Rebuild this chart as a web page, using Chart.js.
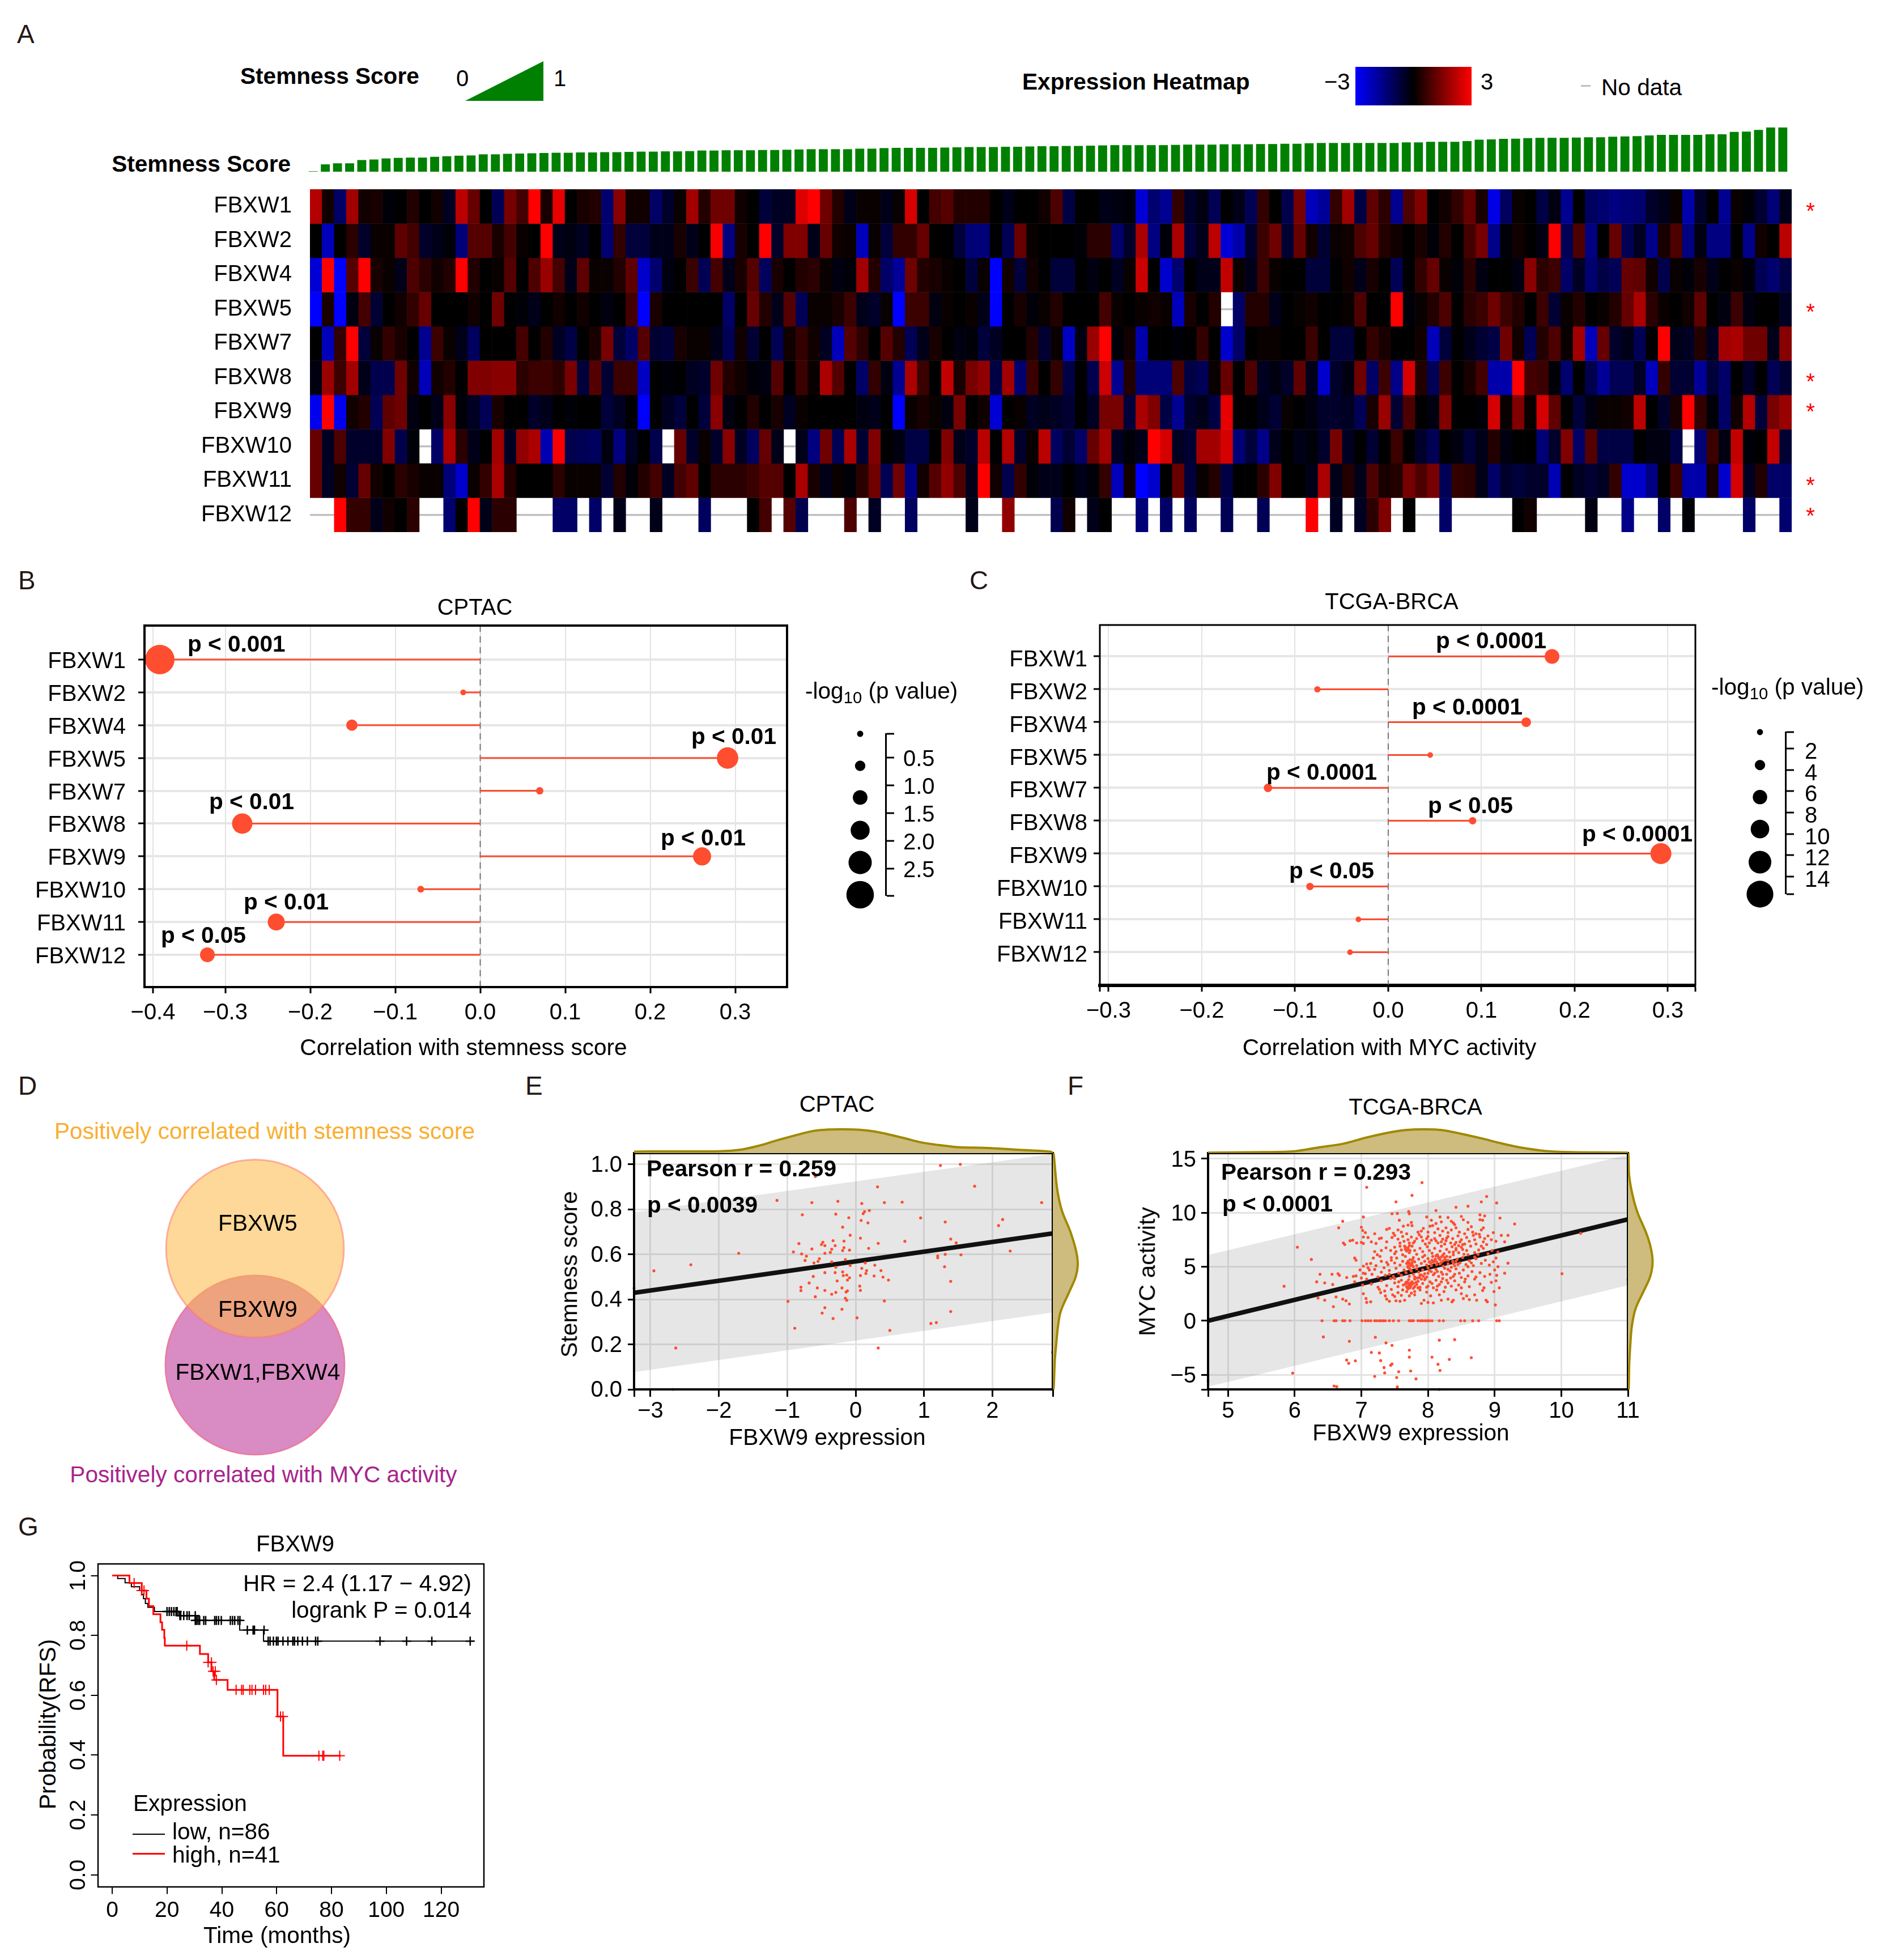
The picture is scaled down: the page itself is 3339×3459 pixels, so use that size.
<!DOCTYPE html>
<html>
<head>
<meta charset="utf-8">
<script src="https://cdn.jsdelivr.net/npm/chart.js@4"></script>
<style>
  html, body { margin: 0; background: #fff; }
  #page { position: relative; width: 3339px; height: 3459px; overflow: hidden; background: #fff; font-family: "Liberation Sans", Arial, sans-serif; }
  #page canvas { position: absolute; }
  .lbl { position: absolute; white-space: nowrap; line-height: 1; color: #000; }
  .lbl sub { font-size: 0.72em; line-height: 0; vertical-align: -0.28em; }
</style>
</head>
<body>
<div id="page"></div>
<script>
// ---------- data ----------
const genes = ['FBXW1', 'FBXW2', 'FBXW4', 'FBXW5', 'FBXW7', 'FBXW8', 'FBXW9', 'FBXW10', 'FBXW11', 'FBXW12'];

const stemness = [
  .01,.166,.19,.19,.264,.276,.30,.313,.319,.319,.337,.35,.362,.368,.393,.393,.405,.411,.417,.423,.429,.429,.436,.436,.442,.442,.448,.454,.454,.46,.46,.466,.479,.479,.485,.485,.485,.491,.491,.497,.503,.509,.509,.509,.509,
  .521,.521,.534,.54,.54,.54,.54,.546,.552,.558,.558,.558,.564,.564,.571,.577,.577,.583,.583,.589,.595,.601,.601,.601,.601,.601,.607,.613,.613,.613,.62,.62,.62,.626,.626,.632,.632,.644,.65,.65,.65,.65,
  .65,.65,.65,.663,.663,.675,.675,.675,.693,.724,.73,.742,.748,.761,.767,.767,.767,.773,.779,.779,.791,.798,.804,.822,.834,.834,.834,.834,.847,.847,.902,.908,.945,1,1
];

const exprW1 = [2.1,.2,-1.2,1.9,.2,.3,-.1,0,.4,0,.2,-.4,2.2,1.2,0,-1,1.4,.8,3,.3,2.7,0,.3,.4,-1.3,1.6,.2,.2,-1.2,-.5,.1,1.9,.4,1.3,1.3,.2,0,-.7,-.4,-.4,2.6,3,1.3,.4,-.3,
  .1,.1,-.3,.1,2.5,0,.8,1,.4,.4,.4,0,-.3,0,0,.2,.9,-.8,0,0,-.3,-.2,-.1,-2.5,-1.3,-1.7,.6,-.5,-.2,-1,0,-.3,-1,.6,0,-.9,1.4,-2.2,-1.8,.6,1.9,-.8,1.1,.5,-1.7,.9,
  1.5,0,.2,.6,1.2,.3,-2.7,-1.1,.1,0,-.8,-.2,-1.7,0,-1.1,-1.3,-1.5,-1.4,-1.3,-.5,-.3,.1,-2,-.5,0,-1.7,.1,-.1,-.6,-1.4,-.3];
const exprW2 = [0,-2.2,0,.5,-.5,.1,.1,1.1,.8,-.5,-.3,-.1,-1.4,1,1,.3,.8,.1,0,3,-.3,-.2,-.4,0,-1.3,.6,-.7,-.7,-.3,-.3,.3,-.3,0,2.9,-1.5,.3,0,3,-.5,1.5,1.5,-.3,1.2,.2,.1,
  -2.2,.1,-.7,.6,.6,1.2,0,0,-.7,-1.4,-1.4,0,-1,1.2,.1,0,0,0,-.1,.5,.5,-1.3,-.5,2,-1.5,-.1,2,-.7,-.3,2.2,-2.5,-2,-.5,.7,1.3,-.6,1.2,.2,-.6,.1,.2,.9,1.2,.4,.2,0,
  .3,-.1,.4,0,.8,1.4,-1.6,-.1,.2,0,-.2,3,-1,.9,-1.5,0,1.2,-1,-.4,-1.6,.3,.9,-1.5,-.2,-1.5,-1.5,0,-1.6,.2,0,2.2];
const exprW4 = [-2.5,3,-3,1,3,.3,.1,-.3,.9,.5,.2,.4,3,.4,0,.1,1,0,.9,1.8,.8,-.3,1.1,.1,.1,.4,1.1,-2.4,-1.3,-.2,0,.7,-1,.8,-.3,.3,1,-1.1,.3,0,.4,.5,.1,-.2,-.1,
  1.9,.4,-1.2,-1.8,1.3,.4,.3,.1,0,-.7,.1,-3,.2,-.7,.2,0,-.7,-.7,0,-.2,0,-.4,.1,2.4,0,-2.4,-1.3,0,-.3,-.3,2.3,.1,-.3,.7,.1,0,0,-.7,-.7,0,.2,-.3,.3,0,-1,0,
  .6,1.2,.1,-.1,.5,-.2,0,0,-.2,1.6,.5,.7,-1.2,-.4,-1.3,-.8,-1,1.2,1.1,.2,-.9,.1,-.1,.3,-.3,0,.1,-.1,-1,-1.3,-.8];
const exprW5 = [-3,.3,-3,-.2,.8,-.6,0,.2,.6,1.2,0,0,0,.2,0,1.3,0,-.1,-.3,0,.2,0,.2,0,-.2,0,.8,-3,.3,0,0,0,0,0,-1.2,0,1.2,.4,-.3,1,-1,.1,.1,.3,.7,
  -.3,-.5,.1,-3,.7,.7,-.2,.1,0,.1,-.3,-3,0,.3,-.1,.1,.4,0,0,0,.8,.1,0,.1,.2,.1,-2.2,.3,0,.4,null,-1.2,.4,.4,-.3,0,.1,.2,0,0,.1,.9,0,0,3,-.1,
  .1,.4,.9,0,.5,.7,1.3,.7,.4,0,.7,-.6,.1,.4,0,.1,.4,1.2,2,.5,.1,0,.2,1.1,0,-.2,.7,-.2,0,0,-.4];
const exprW7 = [0,-2.2,.6,3,-.7,.1,.6,.3,0,-1.7,.7,.1,-.3,-1.1,0,0,0,.8,0,.4,-.4,-.8,0,.3,1.4,-.7,-1.2,1,-.6,-.7,.3,.1,.1,-.3,-1,.2,-.6,0,-1,.2,.6,.2,-.4,-2.2,1,
  .5,0,1,.4,-1,-.3,.3,0,-.2,-.1,-.7,-.4,0,0,.4,-.6,.1,-2.3,-.2,1.8,3,-.1,.2,-2,0,0,-.1,0,.6,0,-2.4,-1.2,0,.1,.1,0,0,.7,0,-.7,-.7,0,.6,.3,0,0,
  .2,-2.2,-.7,0,-.3,-.6,-.8,1.3,.2,-1,.4,.9,.1,1.9,-2.2,1.2,-.5,-.3,-1,0,3,-.3,-.4,.4,-.4,1.9,2,1.3,1.3,-.3,1.6];
const exprW8 = [-.2,1.8,.7,1.9,-.3,-.9,-.9,1.3,.2,-2.2,.2,.4,0,1.5,1.5,1.6,1.6,.5,.7,.7,.5,1.4,-.7,1,-.6,.7,.7,-2.3,0,-.1,0,-.4,-.5,1.3,.4,.2,-.1,-.2,1,0,.7,.1,2,1,0,
  -1.2,.6,-.2,-1.7,2,.7,0,2.3,.3,1.4,1.7,-.8,1.9,-1.3,.7,0,.6,-.8,0,-.9,2.4,-1.7,.4,-1.4,-1.4,-1.4,.9,-.8,-1,.1,1.2,0,.9,-.4,-.2,-.5,1.1,-.3,-2.4,-.5,-.2,1.3,-1.2,.7,-1.6,2.5,
  .4,-1,.7,0,.3,.8,-2,-2,3,.8,.7,-.1,-1.3,0,-.9,-1.8,-1,-1,-.4,-2.2,.6,-.6,-.6,-1.8,-.7,-1.2,0,-.5,0,-1,-.6];
const exprW9 = [-2.8,3,-2.8,.2,.4,-1,1.1,1.3,-.2,0,-.3,1.6,-.1,-.4,-1,.3,0,0,-.5,-.3,0,-.1,0,0,-.7,-.4,0,-3,0,-.4,-.7,0,-.7,1.6,-.2,0,.4,0,.3,-.4,.1,0,0,0,0,
  -.2,-.3,0,-3,.1,.3,.1,-.2,1.4,0,.2,-2.5,0,.1,-.4,-.3,-.4,-.6,0,-.4,1.4,1.4,-.7,2,1.5,-.8,-1.7,-.5,-.3,-.8,2.7,0,0,-.3,-.6,.1,0,-.2,-.5,-.5,-.4,-1,.3,1.8,-.6,.9,
  0,-.2,1.5,0,0,-.1,2.5,.1,1.5,.1,2.5,1.1,0,-.7,-.2,.1,.1,.2,2.2,0,-.5,.3,3,.6,-.1,-1.2,.2,2.1,-.7,1.4,1.8];
const exprW10 = [1.2,-.4,.9,-.5,-.5,-.5,1.5,-.9,-.1,null,-1.2,2,.5,-.3,0,1.9,-.4,1.7,2,-2.1,2.9,-.9,-1,-1.1,-.2,-1.5,-.4,0,-.9,null,1.2,-.5,.1,-.5,1.6,-.4,-1.1,1.2,-.3,null,-.3,-1.5,1.3,-1,2,
  -.6,1.5,0,-.2,-.8,-.8,0,1.5,-.3,-.5,2.2,0,2.1,-.5,.1,2.2,-1.1,-.6,-1.2,1.2,1.9,-.4,-.1,-.3,3,2.5,-.4,-.6,1.9,1.9,2.5,-1.4,-.7,-1.6,-.3,0,-.3,-.1,-.5,1.4,-.4,0,-.6,0,.7,0,
  -.5,-1,0,-.2,-.7,-.3,.4,-.2,0,0,-1.4,-.5,1.5,-1.2,1,-.8,-.8,-.8,0,-.2,-.2,-.8,null,-1.4,.7,-.2,2.3,-.1,0,2.3,-.6];
const exprW11 = [1.2,-.4,.2,-.6,1.2,.2,0,.5,.3,.1,.1,-1.4,-2.4,.1,.6,2,.4,0,0,0,.5,.1,.1,.1,-.6,.4,-.1,.4,.8,-.4,.8,1.1,0,.5,.5,.5,.7,1,1,0,2,.3,-.3,.1,-.1,
  .5,1.3,-1,1.3,-1.5,.2,1,1.7,.9,-.3,3,.2,-.9,.6,-.1,-.3,-.3,0,-.3,-.1,.6,-2.2,.2,-3,-2.4,0,1.2,-.7,.1,.4,-.8,0,0,.5,1.5,0,0,-.3,2,-.3,.4,-.3,.9,.3,.4,1.4,
  .9,1.4,-1,.6,.5,-.3,-1.2,-.5,-.7,-.5,-.5,-2.1,0,-.4,-.6,-.4,.6,-2.4,-2.4,-1.5,0,.7,-2,-2,.3,-2.4,2.5,-.4,.4,-1.2,-1.2];
const exprW12 = [null,null,3,.6,.6,-.3,.2,0,.5,null,null,-1.3,0,3,-.3,.5,.5,null,null,null,-1.2,-1.2,null,-1.2,null,-.3,null,null,-.3,null,null,null,-1.1,null,null,null,0,.8,null,1,-.9,null,null,null,.9,
  null,-.4,null,null,-1.1,null,null,null,null,-.3,null,null,1.7,null,null,null,-.9,.2,null,-.3,0,null,null,-1.4,null,-1.2,null,-1.1,null,null,-1,null,null,-1,null,null,null,3,null,-.4,null,-.4,.5,1.5,null,0,
  null,null,-1.2,null,null,null,null,null,0,.2,null,null,null,null,-.2,null,null,-1.6,null,null,-1.2,null,-.1,null,null,null,null,-1.2,null,null,-1.3];
const exprRows = [exprW1, exprW2, exprW4, exprW5, exprW7, exprW8, exprW9, exprW10, exprW11, exprW12];

// lollipops: correlation and -log10(p)
const corrB = [-.377, -.02, -.151, .291, .07, -.28, .261, -.07, -.24, -.321];
const logpB = [3.23, .02, .77, 2.15, .23, 2.0, 1.69, .15, 1.54, 1.23];
const corrC = [.1757, -.076, .148, .045, -.129, .0905, .2925, -.084, -.032, -.041];
const logpC = [6.8, .55, 3.1, .1, 2.2, 1.4, 11.4, 1.4, .1, .1];
const xTicksB = [-.385, -.3, -.2, -.1, 0, .1, .2, .3];
const xTicksC = [-.3, -.2, -.1, 0, .1, .2, .3];
const sizeLegendB = [.074, .65, 1.22, 1.81, 2.39, 2.97];
const sizeTicksB = [.5, 1, 1.5, 2, 2.5];
const sizeLegendC = [.46, 3.55, 6.55, 9.55, 12.65, 15.65];
const sizeTicksC = [2, 4, 6, 8, 10, 12, 14];

// scatter E: CPTAC
const pointsE = [[1.24,.995],[1.53,1],[.32,.9],[1.74,.903],[-.59,.946],[-1.15,.84],[-.64,.83],[-.26,.836],[.09,.826],[.42,.83],[.68,.832],[2.72,.83],[-.78,.776],[-.29,.779],[.2,.795],[.13,.79],[.11,.781],[-.1,.763],[.95,.762],[2.15,.755],[.08,.751],[.18,.74],[1.31,.744],[2.09,.728],[-.19,.721],[-.08,.685],[.07,.672],[1.39,.668],[-.17,.659],[-.33,.661],[.72,.658],[.33,.649],[1.47,.651],[-.48,.654],[-.5,.644],[-.45,.639],[-.3,.639],[-.83,.648],[-.64,.624],[-.17,.63],[-.35,.623],[.19,.627],[-.19,.617],[-.09,.619],[-.91,.611],[-.37,.609],[-.45,.605],[-.79,.602],[-1.71,.605],[2.26,.615],[1.31,.6],[1.54,.598],[-.72,.592],[1.2,.593],[1.2,.585],[-.53,.581],[-.74,.573],[-.55,.569],[-.15,.577],[-.61,.562],[-.35,.567],[.14,.562],[-2.41,.554],[-.08,.551],[.28,.552],[-.29,.543],[1.3,.545],[.09,.538],[-2.95,.527],[.37,.528],[.16,.528],[-.19,.522],[-.45,.519],[-.3,.519],[.15,.515],[-.13,.508],[-.18,.506],[.07,.506],[.27,.504],[-.62,.502],[.4,.499],[-.09,.496],[-.12,.486],[.48,.486],[-.27,.482],[1.39,.48],[-.68,.473],[.06,.459],[-.8,.454],[-.56,.451],[-.2,.451],[-3.24,.45],[-.45,.44],[-.8,.439],[-.12,.438],[.07,.44],[-.14,.433],[-.29,.431],[-.35,.423],[-.59,.412],[-.15,.405],[-.13,.396],[-.99,.391],[.42,.393],[-.45,.363],[-.2,.356],[1.39,.346],[-.49,.339],[.02,.318],[-.33,.315],[1.18,.297],[1.1,.293],[-.89,.272],[.5,.262],[-2.63,.184],[.33,.184],[2.88,.165],[-2.67,0]];
const fitXE = [-3.24, 2.883];
const fitYE = [.4295, .693];
const bandUpperE = [.787, 1.047];
const bandLowerE = [.0765, .342];
const topDensityXE = [-3.24,-2.83,-2,-1.67,-1.39,-1.17,-.89,-.62,-.39,-.17,.05,.27,.49,.71,.94,1.16,1.49,1.88,2.32,2.85];
const topDensityE = [.06,.07,.08,.15,.33,.52,.74,.93,.99,1,.98,.91,.78,.63,.46,.36,.25,.22,.15,.06];
const sideDensityYE = [1.05,.894,.796,.699,.612,.555,.501,.436,.348,.282,.206,.129,0];
const sideDensityE = [.03,.17,.36,.71,.94,1,.92,.67,.32,.21,.14,.08,.03];

// scatter F: TCGA-BRCA
const outliersF = [[7.91,12.78],[7.08,12.35],[7.76,11.6],[7.52,11],[8.88,11.5],[9.03,10.9],[8.8,11],[8.6,10.6],[8.42,10.5],[8.12,10.2],[7.71,10.1],[7.54,9.93],[7.46,9.9],[7.03,9.6],[6.72,9.2],[6.66,8.6],[6.04,6.8],[6.25,5.67],[5.84,3.19],[10.01,4.35],[10.29,8.09],[9.3,8.95],[9.08,9.5],[9.2,7.9],[9.2,5.33],[9.15,4.4],[9.07,3.05],[9.01,1.46],[8.89,1.75],[4.7,-5.6],[11,3.78],
  [6.43,-1.5],[6.82,-1.9],[7.21,-1.53],[7.37,-2.05],[7.46,-2.28],[8.17,-1.8],[8.4,-1.75],[7.15,-2.94],[7.27,-2.98],[7.72,-2.73],[7.72,-3.37],[8.06,-3.37],[8.32,-3.58],[8.65,-3.42],[6.78,-3.64],[6.81,-3.94],[6.91,-3.71],[7.29,-3.69],[7.34,-4.33],[7.46,-4],[7.44,-4.12],[8.15,-4.03],[7.35,-4.83],[7.56,-4.72],[7.74,-4.65],[8.18,-4.6],[5.97,-4.85],[7.2,-5.15],[7.53,-5.26],[7.82,-5.38],[6.59,-6.04],[6.63,-6.1],[7.54,-6.13],[8.17,-6.36]];
const zeroRowXF = [6.41,6.59,6.62,6.72,6.75,6.83,7.01,7.06,7.1,7.14,7.2,7.23,7.27,7.3,7.33,7.36,7.42,7.48,7.56,7.72,7.75,7.78,7.85,7.89,7.92,7.96,7.99,8.02,8.06,8.17,8.23,8.49,8.55,8.67,8.76,9.03,9.07];
const clusterF = [[7.72,9.9],[7.98,9.6],[8.05,9.3],[8.18,9.6],[8.2,9.15],[8.3,9.55],[8.35,9.2],[8.5,9.65],[8.53,9.35],[8.78,9.8],[8.82,9.3],[8.85,9.7],[8.6,9.1],[7.57,9.3],[7.75,9.1],[8.12,9],[8.38,9.05],[8.78,9.35],
  [7,8.65],[7.06,8.15],[7.02,8.35],[7.38,8.45],[7.42,8.55],[7.55,8.4],[7.63,8.75],[7.7,8.85],[7.76,8.8],[7.85,8.2],[7.9,8.3],[7.93,8.55],[8,8.2],[8.03,8.75],[8.07,8.8],[8.15,8.5],[8.22,8.3],[8.3,8.15],[8.27,8.6],[8.42,8.6],[8.47,8.2],[8.55,8.05],[8.6,8.45],[8.65,8.7],[8.67,8.2],[8.72,8.05],[8.8,8.4],[8.83,8.6],[8.77,8],[7.2,8.05],[7.48,8.1],[7.6,8.2],[7.68,8.05],[8.1,8.15],[8.35,8.4],[8.4,8.9],
  [6.73,7.2],[6.75,7.05],[6.83,7.4],[6.87,7.45],[6.93,7.2],[7,7.25],[7.03,7.15],[7.03,7.75],[7.1,7.7],[7.15,7.3],[7.27,7.6],[7.3,7.65],[7.22,7.15],[7.38,7.3],[7.46,7.7],[7.5,7.9],[7.58,7.2],[7.55,7.55],[7.62,7.8],[7.7,7.5],[7.75,7.75],[7.78,7.2],[7.83,7.6],[7.87,7.95],[7.92,7.4],[7.96,7.1],[8,7.8],[8.05,7.45],[8.1,7.6],[8.15,7.2],[8.18,7.9],[8.22,7.55],[8.25,7.1],[8.27,7.4],[8.3,7.8],[8.37,7.6],[8.42,7.25],[8.45,7.85],[8.5,7.5],[8.55,7.1],[8.58,7.7],[8.62,7.35],[8.68,7.9],[8.7,7.5],[8.72,7.1],[8.78,7.75],[8.83,7.3],[8.85,7.6],[8.95,7.5],[9.02,7.35],[9.1,7.9],[9.15,7.3],
  [7.2,6.4],[7.3,6.5],[7.37,6.75],[7.44,6.5],[7.5,6.8],[7.52,6.4],[7.6,6.55],[7.62,6.1],[7.66,6.8],[7.7,6.6],[7.72,6.3],[7.76,6.9],[7.8,6.5],[7.83,6.15],[7.88,6.7],[7.92,6.4],[7.95,6.05],[7.99,6.85],[8.02,6.5],[8.06,6.25],[8.1,6.7],[8.14,6.1],[8.18,6.45],[8.2,6.9],[8.24,6.2],[8.28,6.6],[8.32,6.35],[8.36,6.85],[8.38,6.1],[8.42,6.55],[8.46,6.3],[8.5,6.8],[8.54,6.15],[8.58,6.5],[8.64,6.9],[8.7,6.3],[8.76,6.55],[8.83,6.7],[8.9,6.2],[8.96,6.5],[9.05,6.35],
  [6.9,5.8],[6.92,5.6],[7.03,5.05],[7.08,5.25],[7.14,5.3],[7.22,5.1],[7.3,5.5],[7.4,5.2],[7.45,5.6],[7.5,5.35],[7.53,5.8],[7.58,5.15],[7.62,5.5],[7.66,5.95],[7.68,5.3],[7.7,5.05],[7.73,5.65],[7.76,5.2],[7.78,5.85],[7.8,5.45],[7.83,5.1],[7.86,5.7],[7.9,5.3],[7.92,5.9],[7.95,5.5],[7.98,5.15],[8,5.75],[8.04,5.35],[8.07,5.95],[8.1,5.55],[8.13,5.2],[8.16,5.8],[8.2,5.4],[8.23,5.05],[8.26,5.65],[8.3,5.25],[8.33,5.9],[8.37,5.5],[8.4,5.1],[8.44,5.7],[8.48,5.35],[8.52,5.85],[8.57,5.2],[8.62,5.55],[8.68,5.1],[8.72,5.75],[8.8,5.3],[8.86,5.6],[8.92,5.15],[8.98,5.45],[9.02,5.8],
  [6.38,4.3],[6.56,4.3],[6.65,4.35],[6.67,4.2],[6.78,4],[6.88,4.1],[6.92,4.15],[6.98,4.7],[7.03,4.4],[7.1,4.9],[7.16,4.3],[7.2,4.75],[7.25,4.05],[7.3,4.5],[7.36,4.2],[7.42,4.65],[7.48,4.1],[7.52,4.85],[7.56,4.4],[7.6,4.2],[7.64,4.7],[7.67,4.45],[7.7,4.95],[7.72,4.1],[7.75,4.6],[7.78,4.3],[7.8,4.05],[7.83,4.8],[7.86,4.5],[7.88,4.2],[7.92,4.7],[7.95,4.35],[7.98,4.05],[8,4.9],[8.05,4.55],[8.08,4.25],[8.12,4.75],[8.16,4.1],[8.2,4.5],[8.25,4.85],[8.28,4.3],[8.33,4.6],[8.38,4.1],[8.42,4.8],[8.47,4.4],[8.53,4.7],[8.6,4.15],[8.66,4.55],[8.72,4.05],[8.78,4.45],[8.85,4.1],[8.93,4.3],[9,4.7],[9.03,4.2],[9.05,5],
  [6.33,3.6],[6.45,3.5],[6.57,3.35],[6.9,3.6],[7.02,3.3],[7.08,3.85],[7.15,3.4],[7.25,3.1],[7.3,3.7],[7.38,3.25],[7.44,3.9],[7.5,3.5],[7.55,3.15],[7.6,3.75],[7.63,3.3],[7.67,3.55],[7.69,3.05],[7.71,3.8],[7.72,3.4],[7.74,3.2],[7.76,3.6],[7.78,3],[7.8,3.85],[7.83,3.35],[7.85,3.65],[7.88,3.1],[7.92,3.45],[7.96,3.9],[8,3.2],[8.03,3.6],[8.08,3.05],[8.12,3.75],[8.17,3.35],[8.22,3.9],[8.26,3.1],[8.3,3.5],[8.35,3.2],[8.4,3.7],[8.46,3.3],[8.5,3.05],[8.55,3.6],[8.62,3.15],[8.7,3.85],[8.78,3.4],[8.84,3.05],[8.95,3.55],[9.02,3.7],
  [6.45,1.9],[6.35,2.1],[6.58,1.3],[6.77,1.85],[6.72,2],[6.82,1.55],[6.62,2.2],[7.03,2.5],[7.07,2.05],[7.08,1.7],[7.14,1.75],[7.27,2.9],[7.29,2.6],[7.36,2.3],[7.38,2],[7.42,1.8],[7.47,2.4],[7.5,2.25],[7.52,1.85],[7.58,1.8],[7.6,2.35],[7.65,1.9],[7.68,2.7],[7.72,2.3],[7.75,2.55],[7.8,2.4],[7.88,2.85],[7.9,1.6],[7.94,1.9],[7.98,2.65],[8,1.7],[8.04,2.3],[8.08,1.65],[8.13,2.85],[8.17,2.4],[8.2,1.9],[8.24,2.7],[8.3,2],[8.36,1.75],[8.38,1.9],[8.42,2.85],[8.5,2.5],[8.53,2.05],[8.58,2.3],[8.62,1.95],[8.7,2.4],[8.73,1.9],[8.82,2.8],[8.87,1.9],[8.99,2.7]];
const coreF = [[7.7,3.45],[7.72,3.25],[7.74,3.5],[7.68,3.15],[7.66,3.4],[7.73,3.05],[7.75,3.3],[7.7,2.95],[7.78,3.45],[7.8,3.15],[7.82,3.55],[7.69,3.6],[7.87,4],[7.9,3.85],[7.93,4.1],[7.9,4.25],[7.84,3.95],[7.95,3.8],[7.72,5.3],[7.74,5.1],[7.76,5.4],[7.78,5],[7.7,5.5],[7.72,4.85],[7.77,5.65],[7.74,4.7],[7.66,6.6],[7.68,6.45],[7.7,6.75],[7.73,6.5],[7.65,6.9],[7.72,6.95],
  [8.06,5.6],[8.08,5.4],[8.11,5.7],[8.13,5.45],[8.15,5.95],[8.18,5.65],[8.2,5.9],[8.22,6.05],[8.25,5.85],[8.23,5.55],[8.18,5.25],[8.28,5.95],[8.3,5.6],[8.12,6],[8.05,5.1],[8.02,5.45],[8,4.4],[8.02,4.65],[8.1,4.4],[8.14,4.55],[8.22,4.3],[8.3,4.75],[8.35,4.95],[8.38,5.3],[8.42,5.5],[8.45,5.2],[8.38,6.35],[8.42,6.7],[8.46,6.95],[8.4,7.05],[8.48,7.3],[8.52,7.05],[8.34,7.2],[8.28,7.65],[8.2,7.3],[8.12,7.4],[8.02,7.2],[7.98,7.6],[7.9,7.75],[7.8,7.35],[7.72,7.2],[7.64,7.35],[7.58,6.9],[7.5,6.2],[7.45,5.85],[7.38,5.4],[7.34,4.9],[7.42,4.3],[7.5,3.9],[7.56,3.6],[7.62,2.85],[7.8,2.7],[7.85,3.05],[7.98,3.1],[8.06,3.45],[8.14,3.2],[8.2,3.6],[8.28,3.75],[8.34,3.95],[8.4,4.3],[8.5,4],[8.56,3.85],[8.6,5],[8.65,5.35],[8.7,5.9],[8.75,6.15],[8.8,6.9],[8.88,7.05],[8.9,7.85],[8.98,8.15],[8.6,6.1],[8.52,6.6],[7.28,5.95],[7.24,6.1],[7.18,5.8],[7.12,4.7],[7.06,4.35],[7,3.95],[7.35,2.75],[7.45,2.9],[7.55,2.6]];
const fitXF = [4.7, 11];
const fitYF = [0, 9.38];
const bandUpperF = [6.08, 15.35];
const bandLowerF = [-6.1, 3.28];
const topDensityXF = [4.7,5.52,6,6.36,6.72,7.07,7.37,7.67,7.94,8.2,8.5,8.8,9.1,9.4,9.76,10.15,11];
const topDensityF = [.02,.04,.08,.24,.39,.65,.84,.97,1,.97,.81,.62,.41,.23,.09,.04,.02];
const sideDensityYF = [15.51,13.41,11.59,10,8.18,6.81,5.44,4.07,2.71,1.12,-.48,-2.07,-4.12,-6.36];
const sideDensityF = [.02,.05,.19,.39,.73,.92,1,.9,.63,.31,.16,.1,.05,.03];

// Kaplan-Meier G
const lowTimes = [0,2,4.7,7,10,10.8,11.4,12.1,13,15.4,24.3,30.3,46.5,55.2,131.7];
const lowSurv = [1,.99,.976,.963,.95,.937,.923,.907,.894,.88,.866,.85,.818,.781,.781];
const highTimes = [0,6.3,10.8,12.5,13.4,15,17.6,18.2,19,19.2,32,35,36.2,37.2,42.1,60.3,62.4,83.4];
const highSurv = [1,.975,.95,.923,.898,.871,.844,.819,.791,.766,.738,.71,.68,.651,.618,.529,.398,.398];
const lowCensor = [[20,.88],[20.8,.88],[21.6,.88],[22.5,.88],[23.3,.88],[23.7,.88],[24.7,.866],[25,.866],[26.1,.866],[27.3,.866],[28.1,.866],[30.3,.866],[30.3,.85],[30.7,.85],[31.3,.85],[31.9,.85],[33.4,.85],[34.1,.85],[37.4,.85],[38,.85],[38.8,.85],[39.8,.85],[43.1,.85],[43.9,.85],[44.7,.85],[45.9,.85],[46.6,.85],[49.3,.818],[51.4,.818],[51.9,.818],[55.4,.818],[56.9,.781],[57.6,.781],[58.8,.781],[59.9,.781],[60.5,.781],[62.3,.781],[64.1,.781],[65.9,.781],[66.5,.781],[67.7,.781],[69.4,.781],[71.2,.781],[74.2,.781],[75,.781],[97.7,.781],[107.4,.781],[116.6,.781],[130.6,.781]];
const highCensor = [[8,.975],[10.7,.95],[11.6,.95],[27.2,.766],[35,.71],[36.2,.71],[36.8,.68],[37.6,.68],[38,.651],[45.2,.618],[47.2,.618],[47.8,.618],[50.2,.618],[51,.618],[52.3,.618],[55.2,.618],[56,.618],[57.3,.618],[61.4,.529],[62.3,.529],[75.4,.398],[76.8,.398],[77.2,.398],[83,.398]];

// ---------- helpers ----------
const page = document.getElementById('page');
const FONT = '"Liberation Sans", Arial, sans-serif';
Chart.defaults.font.family = FONT;
Chart.defaults.font.size = 40;
Chart.defaults.color = '#000';
const RED = '#ff4d30';

// draws the box round the plot area
const boxFrame = {
  id: 'boxFrame',
  afterDatasetsDraw(chart, args, opts) {
    if (!opts.width) return;
    const a = chart.chartArea, c = chart.ctx;
    c.save();
    c.strokeStyle = '#000';
    c.lineWidth = opts.width;
    c.strokeRect(a.left, a.top, a.right - a.left, a.bottom - a.top);
    c.restore();
  }
};

// rect is the plot area on the page, margins the room kept round it for ticks
function place(rect, margins, config) {
  const [L, T, R, B] = rect, [ml, mt, mr, mb] = margins;
  const cv = document.createElement('canvas');
  cv.width = R - L + ml + mr;
  cv.height = B - T + mt + mb;
  cv.style.left = (L - ml) + 'px';
  cv.style.top = (T - mt) + 'px';
  cv.style.width = cv.width + 'px';
  cv.style.height = cv.height + 'px';
  page.appendChild(cv);
  const pad = { left: ml, top: mt, right: mr, bottom: mb };
  const o = config.options;
  for (const s of Object.values(o.scales)) {
    if (s.display === false) continue;
    if (s.position === 'left') { s.afterFit = x => { x.width = ml; }; pad.left = 0; }
    if (s.position === 'right') { s.afterFit = x => { x.width = mr; }; pad.right = 0; }
    if (s.position === 'bottom') { s.afterFit = x => { x.height = mb; }; pad.bottom = 0; }
  }
  o.responsive = false;
  o.animation = false;
  o.devicePixelRatio = 1;
  o.layout = { autoPadding: false, padding: pad };
  o.plugins = Object.assign({ legend: { display: false }, tooltip: { enabled: false } }, o.plugins);
  config.plugins = [boxFrame];
  return new Chart(cv, config);
}

function label(html, x, y, opt = {}) {
  const size = opt.size || 40;
  const el = document.createElement('div');
  el.className = 'lbl';
  el.innerHTML = html;
  el.style.fontSize = size + 'px';
  el.style.left = x + 'px';
  if (opt.bold) el.style.fontWeight = 'bold';
  if (opt.color) el.style.color = opt.color;
  if (opt.rot) {
    // x is the baseline, y the middle of the text
    el.style.top = y + 'px';
    el.style.transformOrigin = '0 0';
    el.style.transform = 'rotate(-90deg) translateX(-50%) translateY(-0.8465em)';
  } else {
    // y is the baseline
    el.style.top = (y - 0.8465 * size) + 'px';
    const shift = { l: '0', c: '-50%', r: '-100%' }[opt.anchor || 'l'];
    el.style.transform = 'translateX(' + shift + ')';
  }
  page.appendChild(el);
  return el;
}

function box(x, y, w, h, css) {
  const el = document.createElement('div');
  el.style.cssText = 'position:absolute;left:' + x + 'px;top:' + y + 'px;width:' + w + 'px;height:' + h + 'px;' + css;
  page.appendChild(el);
}

const minus = s => String(s).replace('-', '\u2212');

function axis(o) {
  const marks = o.marks;
  return {
    type: 'linear',
    position: o.position,
    min: o.min,
    max: o.max,
    reverse: !!o.reverse,
    afterBuildTicks: s => { s.ticks = marks.map(value => ({ value })); },
    border: { display: !!o.border, color: '#000', width: o.border || 0 },
    grid: {
      color: o.gridColor || 'rgba(0,0,0,0)',
      lineWidth: o.gridWidth || 0,
      drawOnChartArea: !!o.gridColor,
      tickColor: '#000',
      tickWidth: o.tickWidth || 3,
      tickLength: o.tickLength === undefined ? 11 : o.tickLength
    },
    ticks: {
      autoSkip: false,
      maxRotation: 0,
      minRotation: 0,
      display: o.showLabels !== false,
      padding: o.padding,
      labelOffset: o.labelOffset || 0,
      color: '#000',
      font: { size: o.size || 40, family: FONT },
      callback: o.text
    }
  };
}

const hidden = (min, max) => ({ type: 'linear', display: false, min, max });
const heat = v => v < 0 ? 'rgb(0,0,' + Math.round(-v / 3 * 255) + ')' : 'rgb(' + Math.round(v / 3 * 255) + ',0,0)';
const xy = (xs, ys) => xs.map((x, i) => ({ x, y: ys[i] }));
const pairs = list => list.map(p => ({ x: p[0], y: p[1] }));

// ---------- A: heatmap ----------
label('A', 30, 76, { size: 46, color: '#231815' });
label('Stemness Score', 424, 148, { bold: true, size: 40.6 });
label('0', 805, 152);
box(821, 108, 138, 70, 'background:#008000;clip-path:polygon(0 100%,100% 0,100% 100%);');
label('1', 977, 152);
label('Expression Heatmap', 1804, 158, { bold: true, size: 40.6 });
label('\u22123', 2337, 158);
box(2392, 118, 205, 68, 'background:linear-gradient(to right,#00f,#000,#f00);');
label('3', 2613, 158);
box(2790, 150, 17, 3, 'background:#bebebe;');
label('No data', 2826, 168, { size: 40.6 });
label('Stemness Score', 513, 303, { bold: true, anchor: 'r', size: 40.6 });

const sampleLabels = stemness.map((_, i) => i + 1);

place([542, 225, 3157, 303], [0, 0, 0, 0], {
  type: 'bar',
  data: {
    labels: sampleLabels,
    datasets: [{ data: stemness, backgroundColor: '#008000', barPercentage: 0.74, categoryPercentage: 1 }]
  },
  options: { scales: { x: { type: 'category', display: false }, y: hidden(0, 1) } }
});

const heatSets = [];
exprRows.forEach((row, r) => {
  // cells
  heatSets.push({
    label: genes[r],
    data: row.map(v => v === null ? null : [r, r + 1]),
    backgroundColor: row.map(v => v === null ? '#fff' : heat(v)),
    barPercentage: 1, categoryPercentage: 1, grouped: false
  });
  // grey mark in the cells with no data
  heatSets.push({
    label: genes[r] + ' no data',
    data: row.map(v => v === null ? [r + 0.478, r + 0.522] : null),
    backgroundColor: '#bebebe',
    barPercentage: 1, categoryPercentage: 1, grouped: false
  });
});
place([547, 334, 3162, 939], [200, 70, 0, 70], {
  type: 'bar',
  data: { labels: sampleLabels, datasets: heatSets },
  options: {
    scales: {
      x: { type: 'category', display: false },
      y: {
        type: 'linear', position: 'left', min: 0, max: 10, reverse: true,
        afterBuildTicks: s => { s.ticks = genes.map((g, i) => ({ value: i + 0.5 })); },
        border: { display: false },
        grid: { display: false, drawTicks: false },
        ticks: { autoSkip: false, padding: 32, color: '#000', callback: v => genes[Math.floor(v)] }
      }
    }
  }
});
[366, 544, 667, 720, 850, 904].forEach(y => label('*', 3195, y + 20, { color: '#f00', anchor: 'c' }));

// ---------- B and C: lollipops ----------
function lollipop(rect, corr, logp, radius, xMarks, xLabelled, xMin, xMax, yMin, yMax, look) {
  const sets = genes.map((g, i) => ({
    label: g,
    data: [{ x: 0, y: i }, { x: corr[i], y: i }],
    showLine: true,
    borderColor: RED,
    borderWidth: 3,
    pointRadius: [0, radius(logp[i])],
    pointBackgroundColor: RED,
    pointBorderWidth: 0,
    clip: false,
    order: 1
  }));
  sets.push({
    data: [{ x: 0, y: yMin }, { x: 0, y: yMax }],
    showLine: true, borderColor: '#777', borderWidth: 2, borderDash: [11, 8], pointRadius: 0, order: 2
  });
  place(rect, [240, 70, 60, 90], {
    type: 'scatter',
    data: { datasets: sets },
    options: {
      plugins: { boxFrame: { width: look.frame } },
      scales: {
        x: axis({
          position: 'bottom', min: xMin, max: xMax, marks: xMarks, padding: 11, border: look.floor,
          gridColor: '#e3e3e3', gridWidth: 2,
          text: v => xLabelled.includes(v) ? minus(v.toFixed(1)) : ''
        }),
        y: axis({
          position: 'left', min: yMin, max: yMax, reverse: true, marks: genes.map((g, i) => i),
          padding: look.yPad, labelOffset: look.yShift, gridColor: '#e6e6e6', gridWidth: 4,
          text: v => genes[v]
        })
      }
    }
  });
}

const radiusB = v => 5 + 6.5 * v;
const radiusC = v => 4.85 + 1.2 * v;
lollipop([255, 1104, 1389, 1742], corrB, logpB, radiusB, xTicksB, xTicksB, -0.395, 0.361, -1.036, 9.984, { frame: 4, yPad: 22, yShift: 4 });
lollipop([1941, 1103, 2992, 1739], corrC, logpC, radiusC, [-0.3094, ...xTicksC, 0.3295], xTicksC, -0.3094, 0.3295, -0.957, 10.01, { frame: 3, floor: 6, yPad: 11, yShift: 6 });

function sizeLegend(rect, values, marks, labelled, radius, min, max, padding, shift, fmt) {
  place(rect, [0, 60, 100, 60], {
    type: 'scatter',
    data: {
      datasets: [{
        data: values.map(v => ({ x: 0.5, y: v })),
        pointRadius: values.map(radius),
        pointBackgroundColor: '#000',
        pointBorderWidth: 0,
        clip: false
      }]
    },
    options: {
      scales: {
        x: hidden(0, 1),
        y: axis({
          position: 'right', min, max, reverse: true, marks, padding, labelOffset: shift, border: 3, tickLength: 15,
          text: v => labelled.includes(v) ? fmt(v) : ''
        })
      }
    }
  });
}
sizeLegend([1473, 1295, 1563, 1581], sizeLegendB, [0.074, ...sizeTicksB, 2.99], sizeTicksB, radiusB, 0.074, 2.99, 16, 4, v => v.toFixed(1));
sizeLegend([3061, 1292, 3151, 1578], sizeLegendC, [0.46, ...sizeTicksC, 15.65], sizeTicksC, radiusC, 0.46, 15.65, 19, 7, v => String(v));

label('B', 32, 1040, { size: 46, color: '#231815' });
label('CPTAC', 838, 1085, { anchor: 'c' });
label('Correlation with stemness score', 818, 1862, { anchor: 'c', size: 40.6 });
label('-log<sub>10</sub> (p value)', 1421, 1233, { size: 40.6 });
label('C', 1711, 1040, { size: 46, color: '#231815' });
label('TCGA-BRCA', 2456, 1075, { anchor: 'c' });
label('Correlation with MYC activity', 2452, 1862, { anchor: 'c', size: 40.6 });
label('-log<sub>10</sub> (p value)', 3020, 1226, { size: 40.6 });

[['p &lt; 0.001', 331, 1150], ['p &lt; 0.01', 1220, 1313], ['p &lt; 0.01', 369, 1428], ['p &lt; 0.01', 1166, 1492], ['p &lt; 0.01', 430, 1605], ['p &lt; 0.05', 284, 1664],
 ['p &lt; 0.0001', 2534, 1144], ['p &lt; 0.0001', 2492, 1261], ['p &lt; 0.0001', 2235, 1376], ['p &lt; 0.05', 2520, 1435], ['p &lt; 0.0001', 2792, 1485], ['p &lt; 0.05', 2275, 1550]]
  .forEach(p => label(p[0], p[1], p[2], { bold: true, size: 40.6 }));

// ---------- D: venn ----------
label('D', 32, 1932, { size: 46, color: '#231815' });
label('Positively correlated with stemness score', 467, 2010, { anchor: 'c', color: '#f9ae30', size: 40.6 });
label('Positively correlated with MYC activity', 465, 2616, { anchor: 'c', color: '#a7248b', size: 40.6 });
const vennSets = ['stemness', 'MYC'];
place([293, 2044, 607, 2569], [20, 20, 20, 20], {
  type: 'scatter',
  data: {
    datasets: [
      { label: vennSets[0], data: [{ x: 0.5, y: 0.696 }], pointRadius: 157, pointBackgroundColor: 'rgba(253,184,68,0.55)', pointBorderColor: 'rgba(255,120,110,0.55)', pointBorderWidth: 3, clip: false, order: 1 },
      { label: vennSets[1], data: [{ x: 0.5, y: 0.305 }], pointRadius: 158, pointBackgroundColor: 'rgb(217,139,195)', pointBorderColor: 'rgb(232,125,165)', pointBorderWidth: 3, clip: false, order: 2 }
    ]
  },
  options: { scales: { x: hidden(0, 1), y: hidden(0, 1) } }
});
label('FBXW5', 455, 2172, { anchor: 'c', size: 40.6 });
label('FBXW9', 455, 2324, { anchor: 'c', size: 40.6 });
label('FBXW1,FBXW4', 455, 2435, { anchor: 'c', size: 40.6 });

// ---------- E and F: scatter with fit and margins ----------
function scatterPanel(rect, points, fitX, fitY, upper, lower, xAxis, yAxis) {
  const band = 'rgba(120,120,120,0.19)';
  place(rect, [150, 60, 50, 80], {
    type: 'scatter',
    data: {
      datasets: [
        { data: pairs(points), pointRadius: 2.6, pointBackgroundColor: RED, pointBorderWidth: 0, clip: false, order: 1 },
        { data: xy(fitX, fitY), showLine: true, borderColor: '#111', borderWidth: 8, pointRadius: 0, order: 2 },
        { data: xy(fitX, upper), showLine: true, borderWidth: 0, pointRadius: 0, fill: '+1', backgroundColor: band, order: 3 },
        { data: xy(fitX, lower), showLine: true, borderWidth: 0, pointRadius: 0, order: 4 }
      ]
    },
    options: {
      plugins: { boxFrame: { width: 4 } },
      scales: { x: axis(xAxis), y: axis(yAxis) }
    }
  });
}

function density(rect, pts, xRange, yRange) {
  place(rect, [0, 0, 0, 0], {
    type: 'scatter',
    data: {
      datasets: [{
        data: pts, showLine: true, tension: 0.35, fill: 'shape',
        backgroundColor: '#cdbc7d', borderColor: '#a08800', borderWidth: 4,
        pointRadius: 0, clip: false
      }]
    },
    options: { scales: { x: hidden(xRange[0], xRange[1]), y: hidden(yRange[0], yRange[1]) } }
  });
}

const xMarksE = [-3.24, -3, -2, -1, 0, 1, 2, 2.883];
const yMarksE = [0, .2, .4, .6, .8, 1];
scatterPanel([1119, 2035, 1858, 2452], pointsE, fitXE, fitYE, bandUpperE, bandLowerE,
  { position: 'bottom', min: -3.24, max: 2.883, marks: xMarksE, padding: 2, tickLength: 13, gridColor: '#e3e3e3', gridWidth: 3,
    text: v => Number.isInteger(v) ? minus(v) : '' },
  { position: 'left', min: 0, max: 1.05, marks: yMarksE, padding: 10, labelOffset: 2, gridColor: '#e3e3e3', gridWidth: 3,
    text: v => v.toFixed(1) });
density([1119, 1990, 1858, 2035], [{ x: -3.24, y: 0 }, ...xy(topDensityXE, topDensityE), { x: 2.883, y: 0 }], [-3.24, 2.883], [0, 1.07]);
density([1858, 2035, 1904, 2452], [{ x: 0, y: 1.05 }, ...xy(sideDensityE, sideDensityYE), { x: 0, y: 0 }], [0, 1.045], [0, 1.05]);

const pointsF = [...outliersF, ...zeroRowXF.map(x => [x, 0]), ...clusterF, ...coreF];
scatterPanel([2132, 2035, 2873, 2452], pointsF, fitXF, fitYF, bandUpperF, bandLowerF,
  { position: 'bottom', min: 4.7, max: 11, marks: [4.7, 5, 6, 7, 8, 9, 10, 11], padding: 2, tickLength: 13, gridColor: '#e3e3e3', gridWidth: 3,
    text: v => Number.isInteger(v) ? String(v) : '' },
  { position: 'left', min: -6.355, max: 15.51, marks: [-6.355, -5, 0, 5, 10, 15], padding: 9, labelOffset: 3, tickLength: 12, gridColor: '#e3e3e3', gridWidth: 3,
    text: v => Number.isInteger(v) ? minus(v) : '' });
density([2132, 1990, 2873, 2035], [{ x: 4.7, y: 0 }, ...xy(topDensityXF, topDensityF), { x: 11, y: 0 }], [4.7, 11], [0, 1.07]);
density([2873, 2035, 2919, 2452], [{ x: 0, y: 15.51 }, ...xy(sideDensityF, sideDensityYF), { x: 0, y: -6.355 }], [0, 1.057], [-6.355, 15.51]);

label('E', 927, 1932, { size: 46, color: '#231815' });
label('CPTAC', 1477, 1962, { anchor: 'c' });
label('FBXW9 expression', 1460, 2550, { anchor: 'c', size: 40.6 });
label('Stemness score', 1019, 2249, { rot: true, size: 41 });
label('Pearson r = 0.259', 1141, 2076, { bold: true, size: 40.6 });
label('p &lt; 0.0039', 1142, 2140, { bold: true, size: 40.6 });
label('F', 1884, 1932, { size: 46, color: '#231815' });
label('TCGA-BRCA', 2498, 1967, { anchor: 'c' });
label('FBXW9 expression', 2490, 2542, { anchor: 'c', size: 40.6 });
label('MYC activity', 2039, 2244, { rot: true, size: 41 });
label('Pearson r = 0.293', 2155, 2082, { bold: true, size: 40.6 });
label('p &lt; 0.0001', 2157, 2138, { bold: true, size: 40.6 });

// ---------- G: Kaplan-Meier ----------
const yMarksG = [0, .2, .4, .6, .8, 1];
const kmMarginTop = 60;
const kmChart = place([173, 2760, 854, 3330], [60, kmMarginTop, 40, 80], {
  type: 'scatter',
  data: {
    datasets: [
      { label: 'low', data: xy(lowTimes, lowSurv), showLine: true, stepped: true, borderColor: '#000', borderWidth: 2, pointRadius: 0, order: 2 },
      { label: 'high', data: xy(highTimes, highSurv), showLine: true, stepped: true, borderColor: '#f00', borderWidth: 3, pointRadius: 0, order: 1 },
      { data: pairs(lowCensor), pointStyle: 'cross', pointRadius: 8, pointBorderColor: '#000', pointBorderWidth: 2.5, order: 2 },
      { data: pairs(highCensor), pointStyle: 'cross', pointRadius: 9, pointBorderColor: '#f00', pointBorderWidth: 2, order: 1 }
    ]
  },
  options: {
    plugins: { boxFrame: { width: 2.5 } },
    scales: {
      x: axis({ position: 'bottom', min: -5.17, max: 135.6, marks: [0, 20, 40, 60, 80, 100, 120], padding: 6, tickLength: 12.5, tickWidth: 2, size: 39, text: v => String(v) }),
      y: axis({ position: 'left', min: -0.0405, max: 1.039, marks: yMarksG, showLabels: false, tickLength: 12.5, tickWidth: 2, text: v => v.toFixed(1) })
    }
  }
});
yMarksG.forEach(v => label(v.toFixed(1), 150, kmChart.scales.y.getPixelForValue(v) + 2760 - kmMarginTop, { size: 39, rot: true }));

label('G', 32, 2710, { size: 46, color: '#231815' });
label('FBXW9', 521, 2738, { anchor: 'c' });
label('HR = 2.4 (1.17 \u2212 4.92)', 832, 2808, { anchor: 'r', size: 40.5 });
label('logrank P = 0.014', 832, 2855, { anchor: 'r', size: 40.5 });
label('Expression', 235, 3196, { size: 40.6 });
box(234, 3236, 57, 2, 'background:#000;');
box(234, 3270, 57, 3, 'background:#f00;');
label('low, n=86', 304, 3246, { size: 40.6 });
label('high, n=41', 304, 3287, { size: 40.6 });
label('Time (months)', 489, 3429, { anchor: 'c', size: 40.6 });
label('Probability(RFS)', 99, 3043, { rot: true, size: 41 });
</script>
</body>
</html>
